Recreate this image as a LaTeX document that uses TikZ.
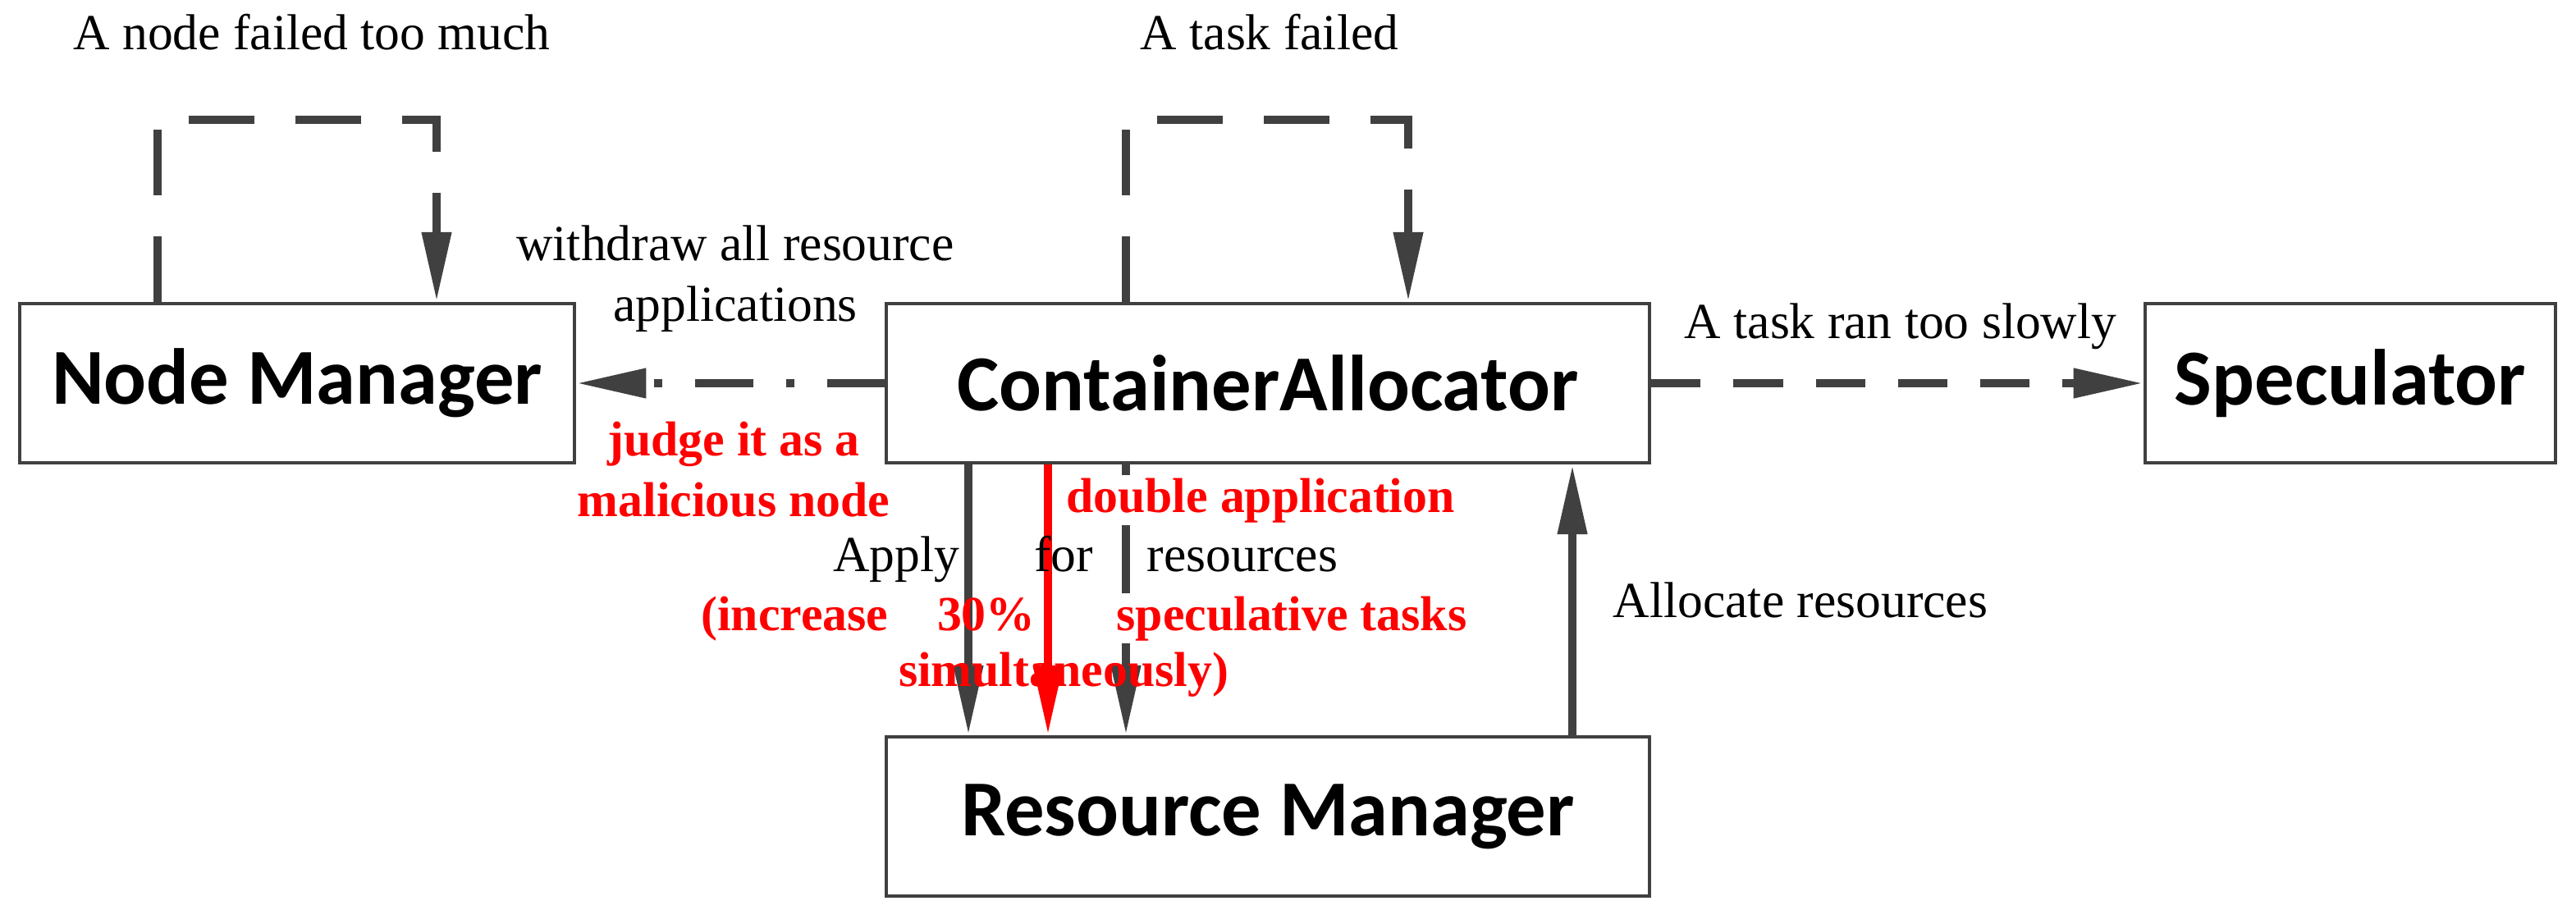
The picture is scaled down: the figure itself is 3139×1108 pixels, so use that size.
\documentclass[tikz,border=0pt]{standalone}
\usepackage{fontspec}
\setmainfont{Liberation Serif}
\newfontfamily\boxfont{Carlito}
\usetikzlibrary{arrows.meta}
\definecolor{dg}{HTML}{404040}
\begin{document}
\begin{tikzpicture}[x=0.01cm,y=-0.01cm,
  box/.style={draw=dg,line width=1.2pt,minimum width=#1,minimum height=1.94cm,inner sep=0,font=\boxfont\bfseries\fontsize{27.5}{30}\selectfont},
  ar/.style={draw=dg,line width=3pt,-{Triangle[length=0.85cm,width=0.34cm]}},
  lbl/.style={font=\fontsize{17.5}{21}\selectfont,inner sep=1pt,anchor=base},
  rl/.style={font=\bfseries\fontsize{17}{21}\selectfont,text=red,inner sep=1pt,anchor=base}]
\useasboundingbox (0,0) rectangle (3139,1108);
\node[box=6.76cm] (nm) at (362,467) {Node Manager};
\node[box=9.3cm] (ca) at (1545,467) {ContainerAllocator};
\node[box=5.0cm] (sp) at (2864,467) {Speculator};
\node[box=9.3cm] (rm) at (1545,995) {Resource Manager};
% loops
\coordinate (n1) at (192,146); \coordinate (n2) at (532,146);
\draw[ar,dash pattern=on 0.8cm off 0.5cm] (nm.north -| n1) -- (n1) -- (n2) -- (nm.north -| n2);
\coordinate (c1) at (1372,146); \coordinate (c2) at (1716,146);
\draw[ar,dash pattern=on 0.8cm off 0.5cm] (ca.north -| c1) -- (c1) -- (c2) -- (ca.north -| c2);
\node[lbl] (t1) at (380,60) {A node failed too much};
\node[lbl] (t2) at (1547,60) {A task failed};
% withdraw
\draw[ar,dash pattern=on 0.7cm off 0.4cm on 0.1cm off 0.4cm] (ca.west) -- (nm.east);
\node[lbl,align=center,anchor=center] (w) at (896,340) {withdraw all resource\\applications};
\node[rl,align=center,anchor=center] (j) at (894,572) {judge it as a\\malicious node};
% speculator
\draw[ar,dash pattern=on 0.6cm off 0.4cm] (ca.east) -- (sp.west);
\node[lbl] (s) at (2316,412) {A task ran too slowly};
% down arrows
\coordinate (d1) at (1180,0); \coordinate (d2) at (1277,0); \coordinate (d3) at (1372,0); \coordinate (u1) at (1916,0);
\draw[ar] (ca.south -| d3) -- (rm.north -| d3);
\node[rl,fill=white] (da) at (1536,624) {double application};
\node[rl,fill=white] (st) at (1574,768) {speculative tasks};
\node[lbl,fill=white,inner sep=2pt] (re) at (1514,696) {resources};
\draw[ar] (ca.south -| d1) -- (rm.north -| d1);
\draw[ar,draw=red,-{Triangle[length=0.85cm,width=0.34cm,fill=red]}] (ca.south -| d2) -- (rm.north -| d2);
\draw[ar] (rm.north -| u1) -- (ca.south -| u1);
\node[lbl] (ap) at (1092,696) {Apply};
\node[lbl] (fo) at (1296,696) {for};
\node[rl] (in) at (1058,768) {(increase\quad 30\%};
\node[rl] (si) at (1296,836) {simultaneously)};
\node[lbl] (al) at (2194,752) {Allocate resources};
\end{tikzpicture}
\end{document}
